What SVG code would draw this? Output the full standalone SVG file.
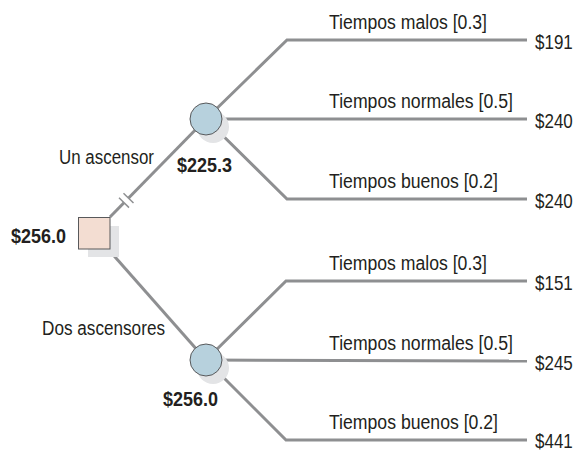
<svg xmlns="http://www.w3.org/2000/svg" width="577" height="451" viewBox="0 0 577 451">
<style>
.br{fill:none;stroke:#8e8f91;stroke-width:3;stroke-linejoin:miter}
.t{font-family:"Liberation Sans",Arial,sans-serif;font-size:20px;fill:#231f20}
.b{font-family:"Liberation Sans",Arial,sans-serif;font-size:20px;font-weight:bold;fill:#231f20}
.sh{fill:#e3e4e6}
.ch{fill:#b7d1dd;stroke:#58595b;stroke-width:1}
.dec{fill:#f3ddd2;stroke:#58595b;stroke-width:1}
</style>
<rect width="577" height="451" fill="#ffffff"/>
<g id="connectors">
<polyline class="br" points="110,217 206,119"/>
<polyline class="br" points="108,249 206,360"/>
<polyline class="br" points="206,119 287,40 527,40"/>
<polyline class="br" points="206,119 527,119"/>
<polyline class="br" points="206,119 287,199 527,199"/>
<polyline class="br" points="206,360 286,281 527,281"/>
<polyline class="br" points="206,360 527,361"/>
<polyline class="br" points="206,360 286,440 527,440"/>
<line x1="124" y1="202.7" x2="128.5" y2="198.1" stroke="#ffffff" stroke-width="5"/>
<line x1="119" y1="197.8" x2="129" y2="207.6" stroke="#8e8f91" stroke-width="1.5"/>
<line x1="123.5" y1="193.2" x2="133.5" y2="203" stroke="#8e8f91" stroke-width="1.5"/>
</g>
<g id="decision">
<rect class="sh" x="88" y="226" width="31" height="31"/>
<rect class="dec" x="78.5" y="217.5" width="31.5" height="31.5"/>
<text class="b" x="11" y="243" textLength="55" lengthAdjust="spacingAndGlyphs">$256.0</text>
</g>
<g id="chance1">
<circle class="sh" cx="213" cy="127" r="16"/>
<circle class="ch" cx="206" cy="119" r="16"/>
<text class="b" x="177" y="172" textLength="55" lengthAdjust="spacingAndGlyphs">$225.3</text>
</g>
<g id="chance2">
<circle class="sh" cx="213" cy="368" r="16"/>
<circle class="ch" cx="206" cy="360" r="16"/>
<text class="b" x="163" y="406" textLength="55" lengthAdjust="spacingAndGlyphs">$256.0</text>
</g>
<g id="labels">
<text class="t" x="59" y="164" textLength="95" lengthAdjust="spacingAndGlyphs">Un ascensor</text>
<text class="t" x="42" y="335" textLength="123" lengthAdjust="spacingAndGlyphs">Dos ascensores</text>
<text class="t" x="329" y="29" textLength="158" lengthAdjust="spacingAndGlyphs">Tiempos malos [0.3]</text>
<text class="t" x="329" y="108" textLength="184" lengthAdjust="spacingAndGlyphs">Tiempos normales [0.5]</text>
<text class="t" x="329" y="188" textLength="169" lengthAdjust="spacingAndGlyphs">Tiempos buenos [0.2]</text>
<text class="t" x="329" y="270" textLength="158" lengthAdjust="spacingAndGlyphs">Tiempos malos [0.3]</text>
<text class="t" x="329" y="350" textLength="184" lengthAdjust="spacingAndGlyphs">Tiempos normales [0.5]</text>
<text class="t" x="329" y="429" textLength="169" lengthAdjust="spacingAndGlyphs">Tiempos buenos [0.2]</text>
<text class="t" transform="translate(535 49) scale(0.85 1)">$191</text>
<text class="t" transform="translate(535 128) scale(0.85 1)">$240</text>
<text class="t" transform="translate(535 208) scale(0.85 1)">$240</text>
<text class="t" transform="translate(535 290) scale(0.85 1)">$151</text>
<text class="t" transform="translate(535 370) scale(0.85 1)">$245</text>
<text class="t" transform="translate(535 448) scale(0.85 1)">$441</text>
</g>
</svg>
